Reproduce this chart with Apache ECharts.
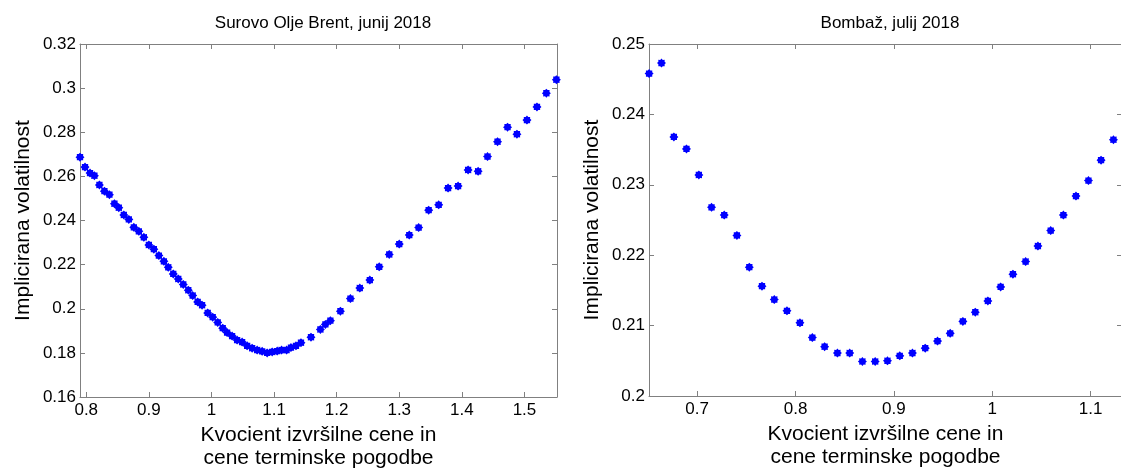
<!DOCTYPE html>
<html lang="sl">
<head>
    <meta charset="UTF-8">
    <title>Implicirana volatilnost</title>
    <style>
        body { margin: 0; background: #fff; }
        #chart { width: 1121px; height: 468px; }
    </style>
    <script src="https://cdn.jsdelivr.net/npm/echarts@6/dist/echarts.min.js"></script>
</head>
<body>
    <div id="chart"></div>
    <script>
        // Surovo Olje Brent, junij 2018
        const brentX = [0.790, 0.798, 0.806, 0.813, 0.821, 0.829, 0.837, 0.845, 0.852, 0.860,
            0.868, 0.876, 0.884, 0.892, 0.900, 0.908, 0.916, 0.924, 0.931, 0.939,
            0.947, 0.955, 0.963, 0.970, 0.978, 0.985, 0.994, 1.002, 1.010, 1.018,
            1.025, 1.033, 1.041, 1.049, 1.057, 1.065, 1.073, 1.081, 1.089, 1.097,
            1.105, 1.112, 1.120, 1.127, 1.135, 1.143, 1.159, 1.174, 1.182, 1.190,
            1.206, 1.222, 1.237, 1.253, 1.268, 1.284, 1.300, 1.316, 1.331, 1.347,
            1.363, 1.378, 1.394, 1.410, 1.426, 1.441, 1.457, 1.473, 1.488, 1.504,
            1.520, 1.535, 1.551];
        const brentY = [0.2687, 0.2642, 0.2615, 0.2603, 0.2561, 0.2533, 0.2517, 0.2476, 0.2458, 0.2425,
            0.2405, 0.2369, 0.2351, 0.2324, 0.2289, 0.2270, 0.2241, 0.2215, 0.2188, 0.2158,
            0.2135, 0.2110, 0.2084, 0.2060, 0.2031, 0.2016, 0.1981, 0.1962, 0.1938, 0.1912,
            0.1892, 0.1876, 0.1858, 0.1849, 0.1832, 0.1821, 0.1813, 0.1807, 0.1800, 0.1804,
            0.1808, 0.1813, 0.1813, 0.1824, 0.1832, 0.1846, 0.1871, 0.1906, 0.1929, 0.1946,
            0.1989, 0.2046, 0.2094, 0.2130, 0.2190, 0.2246, 0.2293, 0.2334, 0.2368, 0.2447,
            0.2471, 0.2547, 0.2556, 0.2629, 0.2623, 0.2690, 0.2757, 0.2823, 0.2791, 0.2855,
            0.2915, 0.2977, 0.3038];

        // Bombaž, julij 2018
        const cottonX = [0.6511, 0.6637, 0.6763, 0.6891, 0.7017, 0.7146, 0.7275, 0.7404, 0.7530, 0.7659,
            0.7784, 0.7913, 0.8045, 0.8171, 0.8296, 0.8426, 0.8551, 0.8680, 0.8810, 0.8935,
            0.9060, 0.9189, 0.9319, 0.9444, 0.9573, 0.9702, 0.9828, 0.9956, 1.0086, 1.0211,
            1.0340, 1.0465, 1.0595, 1.0724, 1.0852, 1.0979, 1.1107, 1.1233];
        const cottonY = [0.2458, 0.2473, 0.2368, 0.2351, 0.2314, 0.2268, 0.2257, 0.2228, 0.2183, 0.2156,
            0.2137, 0.2121, 0.2104, 0.2083, 0.2070, 0.2061, 0.2061, 0.2049, 0.2049, 0.2050,
            0.2057, 0.2061, 0.2068, 0.2078, 0.2089, 0.2106, 0.2119, 0.2135, 0.2155, 0.2173,
            0.2191, 0.2213, 0.2235, 0.2257, 0.2284, 0.2306, 0.2335, 0.2364];

        const brentXTicks = [0.8, 0.9, 1, 1.1, 1.2, 1.3, 1.4, 1.5];
        const cottonXTicks = [0.7, 0.8, 0.9, 1, 1.1];

        const titles = ['Surovo Olje Brent, junij 2018', 'Bombaž, julij 2018'];
        const xName = 'Kvocient izvršilne cene in\ncene terminske pogodbe';
        const yName = 'Implicirana volatilnost';

        const font = 'Liberation Sans, Arial, sans-serif';
        const axisGray = '#808080';
        // thick asterisk-like marker
        const star = 'path://M20 10L16.93 12.87L17.07 17.07L12.87 16.93L10 20L7.13 16.93L2.93 17.07L3.07 12.87L0 10L3.07 7.13L2.93 2.93L7.13 3.07L10 0L12.87 3.07L17.07 2.93L16.93 7.13Z';

        function xAxes(grid, min, max, ticks) {
            const base = {
                type: 'value', gridIndex: grid, min: min, max: max,
                splitLine: { show: false },
                axisLine: { show: true, lineStyle: { color: axisGray, width: 1 } },
                axisTick: { show: true, inside: true, length: 5, customValues: ticks, lineStyle: { color: axisGray } }
            };
            return [
                Object.assign({}, base, {
                    position: 'bottom',
                    axisLabel: { customValues: ticks, color: '#000', fontFamily: font, fontSize: 17, margin: 5 },
                    name: xName, nameLocation: 'middle', nameGap: 25,
                    nameTextStyle: { color: '#000', fontFamily: font, fontSize: 21, lineHeight: 23 }
                }),
                Object.assign({}, base, { position: 'top', axisLabel: { show: false } })
            ];
        }

        function yAxes(grid, min, max, step) {
            const base = {
                type: 'value', gridIndex: grid, min: min, max: max, interval: step,
                splitLine: { show: false },
                axisLine: { show: true, lineStyle: { color: axisGray, width: 1 } },
                axisTick: { show: true, inside: true, length: 5, lineStyle: { color: axisGray } }
            };
            return [
                Object.assign({}, base, {
                    position: 'left',
                    axisLabel: { color: '#000', fontFamily: font, fontSize: 17, margin: 4 },
                    name: yName, nameLocation: 'middle', nameGap: 46, nameRotate: 90,
                    nameTextStyle: { color: '#000', fontFamily: font, fontSize: 21 }
                }),
                Object.assign({}, base, { position: 'right', axisLabel: { show: false } })
            ];
        }

        const chart = echarts.init(document.getElementById('chart'));
        chart.setOption({
            animation: false,
            backgroundColor: '#fff',
            title: [
                { text: titles[0], left: 318, top: 10, textAlign: 'center',
                  textStyle: { color: '#000', fontFamily: font, fontSize: 17, fontWeight: 'normal' } },
                { text: titles[1], left: 885, top: 10, textAlign: 'center',
                  textStyle: { color: '#000', fontFamily: font, fontSize: 17, fontWeight: 'normal' } }
            ],
            grid: [
                { left: 80, top: 44, width: 477, height: 353, outerBoundsMode: 'none', containLabel: false },
                { left: 649, top: 44, width: 473, height: 352, outerBoundsMode: 'none', containLabel: false }
            ],
            xAxis: xAxes(0, 0.79, 1.552, brentXTicks).concat(xAxes(1, 0.651, 1.132, cottonXTicks)),
            yAxis: yAxes(0, 0.16, 0.32, 0.02).concat(yAxes(1, 0.2, 0.25, 0.01)),
            series: [
                {
                    type: 'scatter', xAxisIndex: 0, yAxisIndex: 0,
                    data: brentX.map((x, i) => [x, brentY[i]]),
                    symbol: star, symbolSize: 9,
                    itemStyle: { color: '#0000ff', opacity: 1 }
                },
                {
                    type: 'scatter', xAxisIndex: 2, yAxisIndex: 2,
                    data: cottonX.map((x, i) => [x, cottonY[i]]),
                    symbol: star, symbolSize: 9,
                    itemStyle: { color: '#0000ff', opacity: 1 }
                }
            ]
        });
    </script>
</body>
</html>
